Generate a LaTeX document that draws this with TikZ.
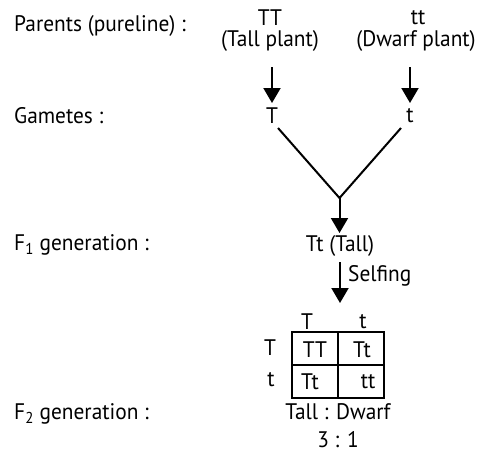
\documentclass[tikz,border=0pt]{standalone}
\usepackage{fontspec}
\setmainfont[FakeStretch=0.95]{PT Sans}
\usetikzlibrary{arrows.meta}
\begin{document}
\begin{tikzpicture}[x=1pt,y=-1pt,
  every node/.style={font=\fontsize{22.5}{24}\selectfont, inner sep=0pt},
  lbl/.style={anchor=west},
  arr/.style={line width=2pt, -{Triangle[length=15pt,width=17pt]}},
  ln/.style={line width=2pt},
  grid/.style={line width=2.4pt}]
\useasboundingbox (0,0) rectangle (479,456);
% row labels
\node[lbl] (lp) at (14,26) {Parents (pureline) :};
\node[lbl] (lg) at (14,116) {Gametes :};
\node[lbl] (lf1) at (14,245) {F\textsubscript{1} generation :};
\node[lbl] (lf2) at (14,414) {F\textsubscript{2} generation :};
% parents
\node (pTT) at (270,18) {TT};
\node (pTall) at (270,41) {(Tall plant)};
\node (ptt) at (418,18) {tt};
\node (pDw) at (416,41) {(Dwarf plant)};
% gametes
\node (gT) at (272,116) {T};
\node (gt) at (410,116) {t};
\coordinate (a1) at (272,67);
\coordinate (a2) at (410,67);
\coordinate (b1) at (272,103);
\coordinate (b2) at (410,103);
\draw[arr] (a1) -- (b1);
\draw[arr] (a2) -- (b2);
% fusion
\coordinate (vl) at (278,128);
\coordinate (vr) at (401,128);
\coordinate (vx) at (339.5,198);
\coordinate (vt) at (339.5,233);
\node (f1) at (340,246) {Tt (Tall)};
\draw[ln] (vl) -- (vx) -- (vr);
\draw[arr] (vx) -- (vt);
% selfing
\coordinate (s1) at (340,262);
\coordinate (s2) at (340,303);
\draw[arr] (s1) -- (s2);
\node[anchor=west] (self) at (348,276) {Selfing};
% Punnett square
\node (cT) at (307,322) {T};
\node (ct) at (363,322) {t};
\node (rT) at (270,348) {T};
\node (rt) at (271,380) {t};
\coordinate (g1) at (292,332);
\coordinate (g2) at (384,398);
\draw[grid] (g1) rectangle (g2);
\draw[grid] (338,332) -- (338,398);
\draw[grid] (292,365) -- (384,365);
\node (c11) at (315,350) {TT};
\node (c12) at (362,350) {Tt};
\node (c21) at (310,382) {Tt};
\node (c22) at (368,382) {tt};
% ratio
\node (ratio) at (338,412) {Tall : Dwarf};
\node (num) at (338,440) {3 : 1};
\end{tikzpicture}
\end{document}
